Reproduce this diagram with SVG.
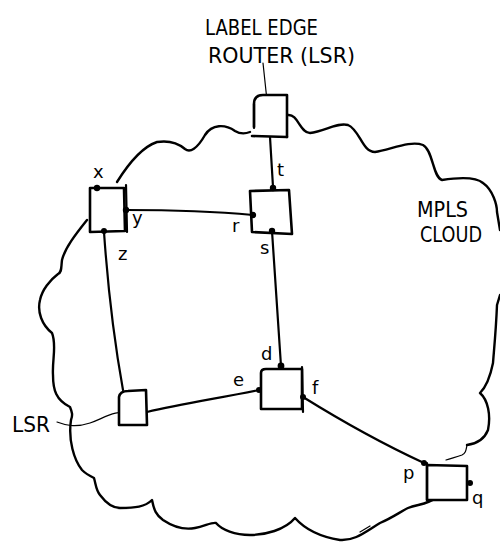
<svg xmlns="http://www.w3.org/2000/svg" width="500" height="542" viewBox="0 0 500 542">
<style>
.cloud{fill:none;stroke:#000;stroke-width:2.4;stroke-linecap:round;stroke-linejoin:round}
.thin{fill:none;stroke:#000;stroke-width:1.2;stroke-linecap:round}
.box{fill:#fff;stroke:#000;stroke-width:2.6;stroke-linecap:round;stroke-linejoin:round}
.edge{fill:none;stroke:#000;stroke-width:2.2;stroke-linecap:round}
.dot{fill:#000}
text{font-family:"DejaVu Sans","Liberation Sans",sans-serif;fill:#000}
.cap{font-size:21px}
.lbl{font-size:18px}
</style>
<rect width="500" height="542" fill="#fff"/>
<g id="cloud">
<path class="cloud" d="M250,132 C245,134 240,134 235,131 C225,124 212,124 205,135 C197,149 190,153 185,149 C178,143 170,140 157,142 C145,146 132,158 117,182"/>
<path class="cloud" d="M288,115 C298,114 300,133 310,133 C325,131 338,122 348,125 C360,130 362,152 375,152 C390,150 410,140 423,145 C433,150 433,178 442,180 C455,178 475,176 483,183 C493,190 497,205 497,212 L500,230"/>
<path class="cloud" d="M500,295 L497,305 C496,330 494,350 493,363 C490,378 485,388 480,393 C488,400 491,415 488,430 C484,440 475,444 467,445"/>
<path class="thin" d="M467,445 C466,450 466,453 462,455 C457,457 452,458 446,460"/>
<path class="cloud" d="M87,220 C75,235 65,248 62,260 C61,268 62,272 58,274 C50,280 42,290 40,300 C37,312 42,325 52,333 C57,345 52,360 53,375 C53,390 56,400 70,407 C72,412 73,415 71,420 C68,440 74,460 82,470 C86,474 90,476 94,478 C96,485 96,490 100,495 C106,503 112,508 120,508 C135,508 145,507 152,500 C154,510 156,515 163,520 C175,528 185,530 195,528 C205,526 212,522 216,523 C222,530 235,535 250,535 C265,535 285,530 295,518 C303,527 315,536 340,540 C355,541 365,532 380,523 C392,518 400,512 408,508 C418,504 427,505 437,497"/>
<path class="thin" d="M360,532 L370,526"/>
</g>
<g id="connectors">
<path class="edge" d="M270,137 L273,187"/>
<path class="edge" d="M126,210 C170,210 210,211 253,215"/>
<path class="edge" d="M104,232 C108,290 114,340 123,390"/>
<path class="edge" d="M272,231 C275,280 278,325 281,366"/>
<path class="edge" d="M147,412 C180,404 220,398 259,390"/>
<path class="edge" d="M303,397 C340,420 385,445 424,463"/>
<path class="thin" d="M263,63 L268,110"/>
<path class="thin" d="M57,422 C65,425 75,428 90,423 C105,418 112,410 137,412"/>
</g>
<g id="node-ler">
<path class="box" d="M254,127 L254,104 Q254,95 263,95 L287,95 L287,137"/>
<path class="box" d="M252,136 L287,137" />
<path class="edge" d="M254,104 L254,128"/>
</g>
<g id="node-x">
<path class="box" d="M90,232 L90,188 L124,188 L125,231 Z"/>
<path class="edge" d="M126,185 L127,232"/>
<circle class="dot" cx="97" cy="188" r="3.2"/>
<circle class="dot" cx="126" cy="210" r="3.2"/>
<circle class="dot" cx="104" cy="231" r="3"/>
</g>
<g id="node-r">
<path class="box" d="M250,191 L289,190 L292,234 L252,232 Z"/>
<circle class="dot" cx="273" cy="188" r="3.2"/>
<circle class="dot" cx="253" cy="215" r="3.2"/>
<circle class="dot" cx="272" cy="231" r="3.2"/>
</g>
<g id="node-lsr">
<path class="box" d="M119,425 L119,397 Q120,391 128,391 L146,390 L147,425 Z"/>
</g>
<g id="node-d">
<path class="box" d="M261,409 L261,373 Q261,369 266,369 L302,369 L302,409 Z"/>
<path class="edge" d="M302,367 L303,412"/>
<circle class="dot" cx="281" cy="366" r="3.4"/>
<circle class="dot" cx="259" cy="390" r="3"/>
<circle class="dot" cx="303" cy="397" r="3"/>
</g>
<g id="node-p">
<path class="box" d="M427,465 L427,500 L467,500 L467,466 Z"/>
<path class="edge" d="M427,463 L427,500"/>
<circle class="dot" cx="424" cy="463" r="3"/>
<circle class="dot" cx="470" cy="483" r="3"/>
</g>
<g id="labels">
<text class="cap" x="205" y="35" textLength="113" lengthAdjust="spacingAndGlyphs">LABEL EDGE</text>
<text class="cap" x="208" y="63" textLength="147" lengthAdjust="spacingAndGlyphs">ROUTER (LSR)</text>
<text class="cap" x="417" y="217" textLength="51" lengthAdjust="spacingAndGlyphs">MPLS</text>
<text class="cap" x="420" y="242" textLength="62" lengthAdjust="spacingAndGlyphs">CLOUD</text>
<text class="cap" x="12" y="432" textLength="38" lengthAdjust="spacingAndGlyphs">LSR</text>
<text class="lbl" x="93" y="178">x</text>
<text class="lbl" x="132" y="224">y</text>
<text class="lbl" x="118" y="260">z</text>
<text class="lbl" x="277" y="176">t</text>
<text class="lbl" x="232" y="232">r</text>
<text class="lbl" x="260" y="254">s</text>
<text class="lbl" x="261" y="360">d</text>
<text class="lbl" x="233" y="386">e</text>
<text class="lbl" x="312" y="394">f</text>
<text class="lbl" x="403" y="479">p</text>
<text class="lbl" x="472" y="504">q</text>
</g>
</svg>
